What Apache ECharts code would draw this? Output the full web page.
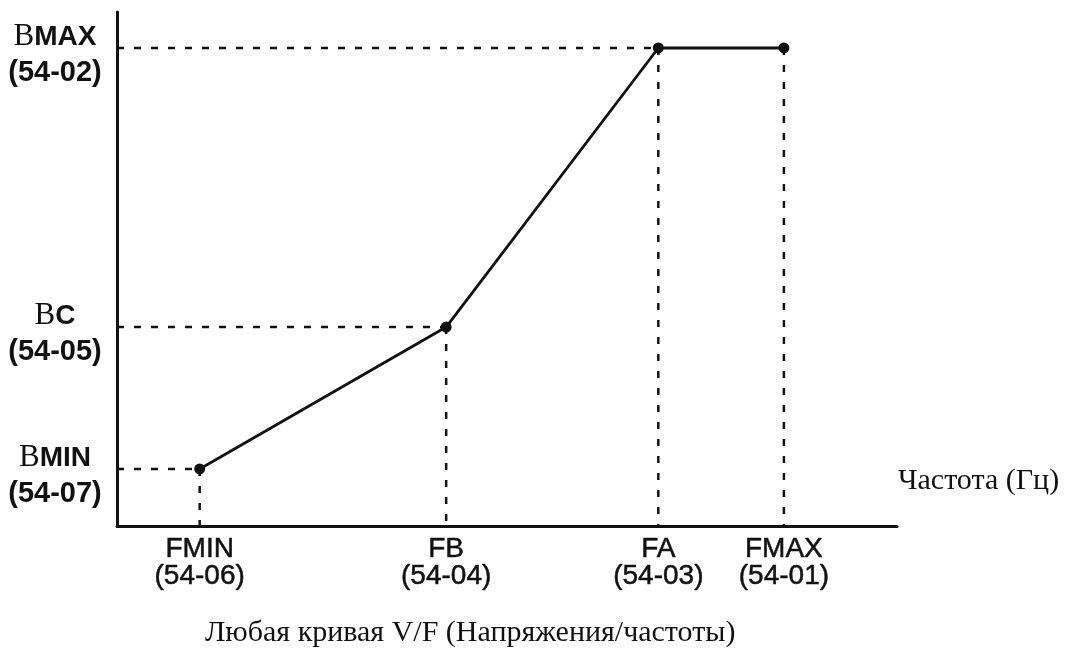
<!DOCTYPE html>
<html>
<head>
<meta charset="utf-8">
<script src="https://cdn.jsdelivr.net/npm/echarts@6/dist/echarts.min.js"></script>
<style>html,body{margin:0;padding:0;background:#fff}#c{width:1066px;height:648px}</style>
</head>
<body>
<div id="c"></div>
<script>
// Frequency points (x) and their labels
const xNames = ['FMIN', 'FB', 'FA', 'FMAX'];
const xCodes = ['(54-06)', '(54-04)', '(54-03)', '(54-01)'];
const xValues = [10.6, 42.2, 69.4, 85.5];
// Voltage levels (y) and their labels
const yNames = ['MIN', 'C', 'MAX'];
const yCodes = ['(54-07)', '(54-05)', '(54-02)'];
const yValues = [11.1, 38.7, 93.0];
// V/F curve: voltage at each frequency point
const curveY = [11.1, 38.7, 93.0, 93.0];
const xAxisName = 'Частота (Гц)';
const caption = 'Любая кривая V/F (Напряжения/частоты)';

const curve = xValues.map((x, i) => [x, curveY[i]]);
const guides = [];
curve.forEach((p, i) => {
  if (i < 3) guides.push({type: 'line', data: [[0, p[1]], [p[0], p[1]]]});
  guides.push({type: 'line', data: [[p[0], p[1]], [p[0], 0]]});
});
const dashStyle = {color: '#111', width: 2.5, type: [7, 10]};
const guideSeries = guides.map(g => ({
  type: 'line', data: g.data, symbol: 'none', silent: true,
  lineStyle: dashStyle, z: 1, animation: false
}));

const chart = echarts.init(document.getElementById('c'), null, {renderer: 'canvas'});
chart.setOption({
  animation: false,
  backgroundColor: '#fff',
  grid: {left: 117, right: 169, top: 12, bottom: 122},
  xAxis: {
    type: 'value', min: 0, max: 100,
    splitLine: {show: false},
    axisLine: {show: true, lineStyle: {color: '#111', width: 3}},
    axisTick: {show: false},
    axisLabel: {
      customValues: xValues,
      margin: 10,
      formatter: v => {
        const i = xValues.indexOf(v);
        return i < 0 ? '' : '{a|' + xNames[i] + '}\n{a|' + xCodes[i] + '}';
      },
      rich: {a: {fontFamily: "'Liberation Sans',Arial,sans-serif", fontSize: 28, lineHeight: 27, color: '#111', textBorderColor: '#111', textBorderWidth: 0.5}}
    }
  },
  yAxis: {
    type: 'value', min: 0, max: 100,
    splitLine: {show: false},
    axisLine: {show: true, lineStyle: {color: '#111', width: 3}},
    axisTick: {show: false},
    axisLabel: {
      customValues: yValues,
      margin: 62,
      align: 'center',
      padding: [14, 0, 0, 0],
      formatter: v => {
        const i = yValues.indexOf(v);
        return i < 0 ? '' : '{s|В}{b|' + yNames[i] + '}\n{n|' + yCodes[i] + '}';
      },
      rich: {
        s: {fontFamily: "'Liberation Serif','Times New Roman',serif", fontSize: 31, lineHeight: 36, color: '#111'},
        b: {fontFamily: "'Liberation Sans',Arial,sans-serif", fontWeight: 'bold', fontSize: 28, lineHeight: 36, color: '#111'},
        n: {fontFamily: "'Liberation Sans',Arial,sans-serif", fontWeight: 'bold', fontSize: 29, lineHeight: 36, color: '#111'}
      }
    }
  },
  graphic: [
    {type: 'text', left: 898, top: 466, style: {text: xAxisName, font: "30px 'Liberation Serif','Times New Roman',serif", fill: '#111'}},
    {type: 'text', left: 205, top: 618, style: {text: caption, font: "30px 'Liberation Serif','Times New Roman',serif", fill: '#111'}}
  ],
  series: guideSeries.concat([{
    type: 'line', data: curve, symbol: 'circle', symbolSize: 11,
    itemStyle: {color: '#111'},
    lineStyle: {color: '#111', width: 2.8}, z: 5
  }])
});
</script>
</body>
</html>
